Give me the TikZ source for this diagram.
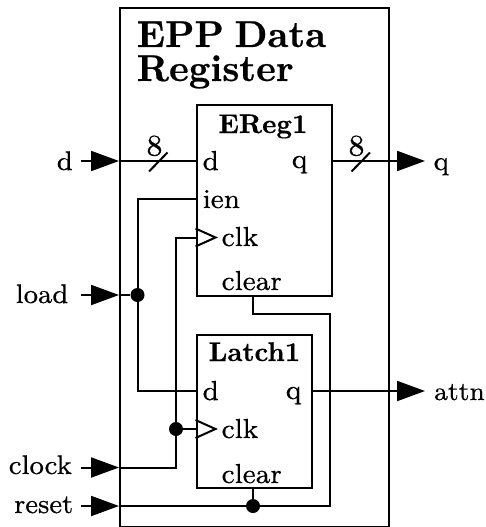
\documentclass[tikz,border=0pt]{standalone}
\usepackage{fontspec}
\setmainfont{lmroman8-regular.otf}[BoldFont=lmroman10-bold.otf,RawFeature={embolden=0.4},BoldFeatures={RawFeature={embolden=0.5}}]
\usetikzlibrary{arrows.meta,calc}
\tikzset{
  x=1pt,y=-1pt,
  wire/.style={line width=2pt,line join=miter},
  blockbox/.style={draw,line width=2pt,inner sep=0pt,anchor=north west},
  pinarrow/.style={wire,-{Triangle[length=28pt,width=20pt]}},
  sig/.style={font=\fontsize{27}{27}\selectfont,inner sep=0pt,anchor=base},
  buswidth/.style={font=\fontsize{30}{30}\selectfont,inner sep=0pt,anchor=base},
  port/.style={font=\fontsize{27.5}{27.5}\selectfont,inner sep=0pt,anchor=base west},
  blocktitle/.style={font=\fontsize{27}{27}\selectfont\bfseries,inner sep=0pt,anchor=base},
  maintitle/.style={font=\fontsize{37.5}{37.5}\selectfont\bfseries,inner sep=0pt,anchor=base west},
  jdot/.style={circle,fill=black,inner sep=0pt,minimum size=14pt},
  clktri/.style={draw,line width=2pt,line join=miter}
}
\begin{document}
\begin{tikzpicture}
\useasboundingbox (0.5,0.5) rectangle (485.5,527.5);
% boxes
\node[blockbox,minimum width=269pt,minimum height=518pt] (outer) at (119,8) {};
\node[blockbox,minimum width=135pt,minimum height=191.5pt] (ereg) at (196,104) {};
\node[blockbox,minimum width=115.5pt,minimum height=153pt] (latch) at (196,334) {};
% titles
\node[maintitle] (title1) at (137,47.5) {EPP\kern.28em Data};
\node[maintitle] (title2) at (137,81.5) {Register};
\node[blocktitle] (eregname) at (263.5,133.5) {EReg1};
\node[blocktitle] (latchname) at (255,361.5) {Latch1};
% ports
\node[port] (pd) at (203,170.5) {d};
\node[port] (pien) at (203,208.5) {ien};
\node[port] (pclk) at (222,246.5) {clk};
\node[port] (pclear) at (222,290.5) {clear};
\node[port,anchor=base east] (pq) at (308,168.5) {q};
\node[port] (ld) at (203,400.5) {d};
\node[port] (lclk) at (222,438.5) {clk};
\node[port] (lclear) at (222,483.5) {clear};
\node[port,anchor=base east] (lq) at (302,399.5) {q};
% outer labels
\node[sig,anchor=base east] (sd) at (73.5,170.5) {d};
\node[sig,anchor=base east] (sload) at (69,303.5) {load};
\node[sig,anchor=base east] (sclock) at (72.5,474.5) {clock};
\node[sig,anchor=base east] (sreset) at (74,513.5) {reset};
\node[sig,anchor=base west] (sq) at (434,170.5) {q};
\node[sig,anchor=base west,font=\fontsize{26}{26}\selectfont] (sattn) at (434.5,400.5) {attn};
% pins
\coordinate (ind) at (81,161.5);
\coordinate (inload) at (81,295.5);
\coordinate (inclock) at (81,468);
\coordinate (inreset) at (81,506.5);
\coordinate (bd) at (119.5,161.5);
\coordinate (bload) at (119.5,295.5);
\coordinate (bclock) at (119.5,468);
\coordinate (breset) at (119.5,506.5);
\coordinate (eqo) at (331,161.5);
\coordinate (lqo) at (311.5,391.5);
\coordinate (outq) at (425.5,161.5);
\coordinate (outattn) at (425.5,391.5);
\coordinate (ed) at (196,161.5);
\coordinate (eien) at (196,199.5);
\coordinate (eclk) at (196,238);
\coordinate (ldd) at (196,391.5);
\coordinate (lck) at (196,429.5);
\coordinate (eclrb) at (253.5,295.5);
\coordinate (lclrb) at (253.5,487);
% junctions
\node[jdot] (jload) at (138,295.5) {};
\node[jdot] (jclock) at (176.5,429.5) {};
\node[jdot] (jreset) at (253.5,506.5) {};
% wires
\draw[pinarrow] (ind) -- (bd);
\draw[pinarrow] (inload) -- (bload);
\draw[pinarrow] (inclock) -- (bclock);
\draw[pinarrow] (inreset) -- (breset);
\draw[pinarrow] (eqo) -- (outq);
\draw[pinarrow] (lqo) -- (outattn);
\draw[wire] (bd) -- (ed);
\draw[wire] (bload) -- (jload);
\draw[wire] (eien) -- (jload.center |- eien) -- (jload.center) -- (jload.center |- ldd) -- (ldd);
\draw[wire] (bclock) -- (jclock.center |- bclock) -- (jclock.center) -- (jclock.center |- eclk) -- (eclk);
\draw[wire] (jclock) -- (lck);
\draw[wire] (breset) -- (jreset) -- (330.5,506.5) -- (330.5,314.5) -- (253.5,314.5) -- (eclrb);
\draw[wire] (lclrb) -- (jreset);
% clock triangles
\draw[clktri] (196,229) -- (216,238) -- (196,247);
\draw[clktri] (196,420.5) -- (216,429.5) -- (196,438.5);
% bus marks
\draw[wire] (149.5,172) -- (168,153);
\draw[wire] (352,172) -- (370.5,153);
\node[buswidth] (bus1) at (155,156) {8};
\node[buswidth] (bus2) at (357,156) {8};
\end{tikzpicture}
\end{document}
